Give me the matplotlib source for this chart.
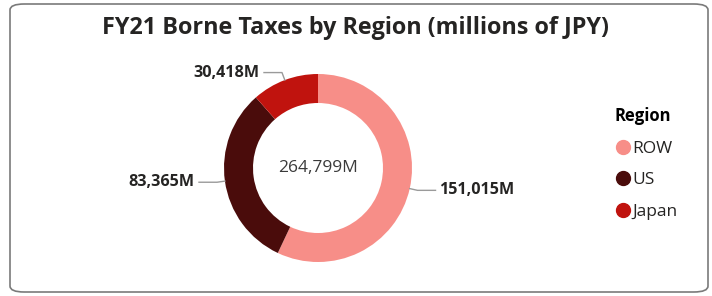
import numpy as np
import matplotlib.pyplot as plt
from matplotlib.lines import Line2D
from matplotlib.patches import FancyBboxPatch

plt.rcParams["font.family"] = ["Open Sans", "DejaVu Sans"]

REGIONS = ["ROW", "US", "Japan"]
TAXES = [151015, 83365, 30418]          # millions of JPY
COLORS = ["#F78E88", "#4A0C0B", "#C0130E"]
TOTAL_LABEL = "264,799M"                 # as reported (rounded source)

W, H = 712, 296
fig = plt.figure(figsize=(W / 100, H / 100), dpi=100)
ax = fig.add_axes([0, 0, 1, 1])

# rounded card frame
fig.patches.append(FancyBboxPatch((10 / W, 4 / H), 698 / W, 288 / H,
                                  boxstyle="round,pad=0,rounding_size=0.02",
                                  transform=fig.transFigure, fc="none",
                                  ec="#7a7a7a", lw=1.2))

cx, cy, R = 318, 128, 94
wedges, _ = ax.pie(TAXES, colors=COLORS, startangle=90, counterclock=False,
                   center=(cx, cy), radius=R, frame=True,
                   wedgeprops=dict(width=29, edgecolor="none"))
ax.set_xlim(0, W)
ax.set_ylim(0, H)
ax.set_aspect("equal")
ax.axis("off")

ax.text(cx, cy, TOTAL_LABEL, ha="center", va="center", fontsize=12.5,
        color="#3a3a3a")

# leader lines + data labels
for w, v in zip(wedges, TAXES):
    ang = np.deg2rad((w.theta1 + w.theta2) / 2)
    x0, y0 = cx + R * np.cos(ang), cy + R * np.sin(ang)
    x1, y1 = cx + (R + 8) * np.cos(ang), cy + (R + 8) * np.sin(ang)
    s = 1 if np.cos(ang) >= 0 else -1
    x2 = x1 + s * 18
    ax.plot([x0, x1, x2], [y0, y1, y1], color="#9a9a9a", lw=1)
    ax.text(x2 + s * 4, y1, f"{v:,}M", ha="left" if s > 0 else "right",
            va="center", fontsize=11.6, fontweight="bold", color="#252423")

fig.text(0.5, 1 - 28 / H, "FY21 Borne Taxes by Region (millions of JPY)",
         ha="center", va="center", fontsize=16.8, fontweight="bold",
         color="#252423")

handles = [Line2D([], [], marker="o", ls="", color=c, markersize=10)
           for c in COLORS]
leg = ax.legend(handles, REGIONS, title="Region", loc="upper left",
                bbox_to_anchor=(608 / W, 1 - 100 / H), frameon=False,
                fontsize=12.5, handletextpad=0.1, labelspacing=0.9,
                handlelength=0.9, alignment="left", borderaxespad=0)
leg.get_title().set_fontweight("bold")
leg.get_title().set_fontsize(12)
for t in leg.get_texts():
    t.set_color("#252423")

fig.savefig("out.png", dpi=100)
